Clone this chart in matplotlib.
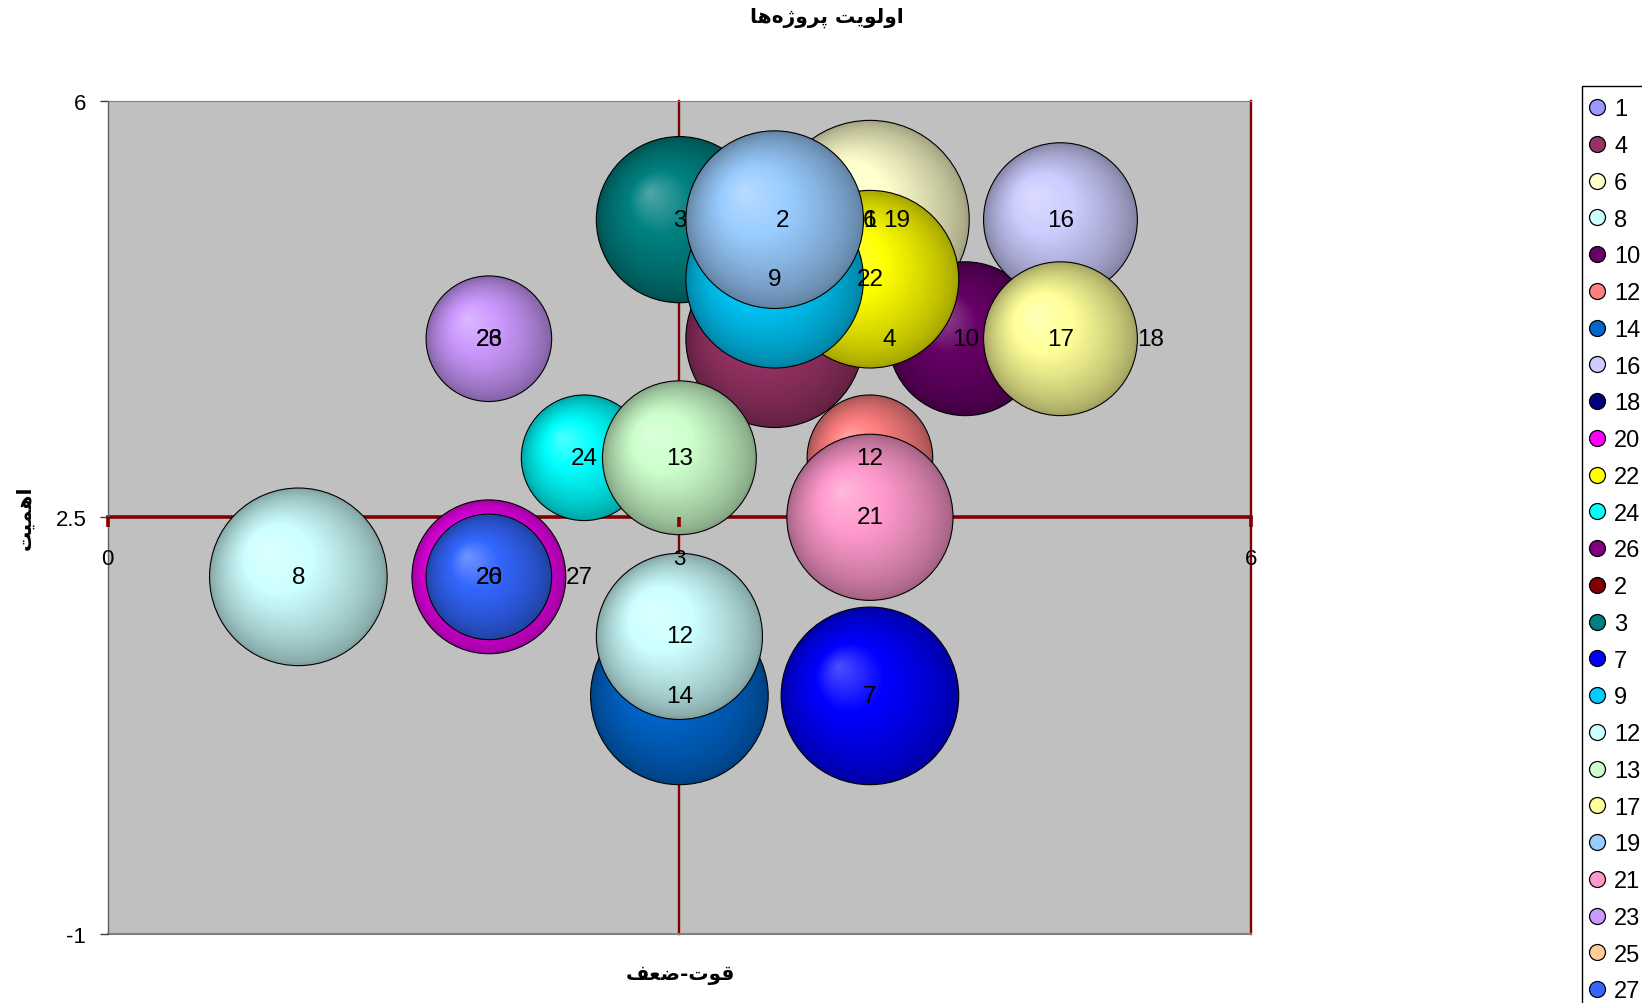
import numpy as np
import matplotlib
matplotlib.use("Agg")
import matplotlib.pyplot as plt
from matplotlib.colors import to_rgb
from matplotlib.lines import Line2D

# series in legend order (also the drawing order, later ones on top)
series = ["1", "4", "6", "8", "10", "12", "14", "16", "18", "20", "22", "24", "26",
          "2", "3", "7", "9", "12", "13", "17", "19", "21", "23", "25", "27"]
colors = ["#9999FF", "#993366", "#FFFFCC", "#CCFFFF", "#660066", "#FF8080", "#0066CC",
          "#CCCCFF", "#000080", "#FF00FF", "#FFFF00", "#00FFFF", "#800080", "#800000",
          "#008080", "#0000FF", "#00CCFF", "#CCFFFF", "#CCFFCC", "#FFFF99", "#99CCFF",
          "#FF99CC", "#CC99FF", "#FFCC99", "#3366FF"]
x_vals = [4, 3.5, 4, 1, 4.5, 4, 3, 5, 5, 2, 4, 2.5, 2,
          3.5, 3, 4, 3.5, 3, 3, 5, 3.5, 4, 2, 2, 2]
y_vals = [5, 4, 5, 2, 4, 3, 1, 5, 4, 2, 4.5, 3, 4,
          5, 5, 1, 4.5, 1.5, 3, 4, 5, 2.5, 4, 2, 2]
sizes = [9, 8, 10, 8, 6, 4, 8, 6, 4, 6, 8, 4, 3,
         0, 7, 8, 8, 7, 6, 6, 8, 7, 4, 3, 4]
# data labels as they appear on the chart
labels = ["1", "4", "6", "8", "10", "12", "14", "16", "18", "20", "22", "24", "26",
          "2", "3", "7", "9", "12", "13", "17", "19", "21", "23", "26", "27"]
label_side = ["c", "r", "c", "c", "c", "c", "c", "c", "r", "c", "c", "c", "c",
              "r", "c", "c", "c", "c", "c", "c", "r", "c", "c", "c", "r"]

title = "اولویت پروژه\u200cها"
x_title = "قوت-ضعف"
y_title = "اهمیت"

x_ticks = [0, 3, 6]
y_ticks = [-1, 2.5, 6]

# matplotlib does no arabic shaping, so pick the presentation forms by hand
FORMS = {
    "ا": ("\uFE8D", "\uFE8E", None, None),
    "و": ("\uFEED", "\uFEEE", None, None),
    "ر": ("\uFEAD", "\uFEAE", None, None),
    "ژ": ("\uFB8A", "\uFB8B", None, None),
    "ل": ("\uFEDD", "\uFEDE", "\uFEDF", "\uFEE0"),
    "ی": ("\uFBFC", "\uFBFD", "\uFBFE", "\uFBFF"),
    "ت": ("\uFE95", "\uFE96", "\uFE97", "\uFE98"),
    "پ": ("\uFB56", "\uFB57", "\uFB58", "\uFB59"),
    "ه": ("\uFEE9", "\uFEEA", "\uFEEB", "\uFEEC"),
    "ق": ("\uFED5", "\uFED6", "\uFED7", "\uFED8"),
    "ض": ("\uFEBD", "\uFEBE", "\uFEBF", "\uFEC0"),
    "ع": ("\uFEC9", "\uFECA", "\uFECB", "\uFECC"),
    "ف": ("\uFED1", "\uFED2", "\uFED3", "\uFED4"),
    "م": ("\uFEE1", "\uFEE2", "\uFEE3", "\uFEE4"),
}


def shape_rtl(s):
    out = []
    for i, ch in enumerate(s):
        if ch not in FORMS:
            if ch != "\u200c":
                out.append(ch)
            continue
        prev = s[i - 1] if i > 0 else ""
        nxt = s[i + 1] if i + 1 < len(s) else ""
        f = FORMS[ch]
        join_prev = prev in FORMS and FORMS[prev][2] is not None
        join_next = f[2] is not None and nxt in FORMS
        if join_prev and join_next:
            out.append(f[3])
        elif join_prev:
            out.append(f[1])
        elif join_next:
            out.append(f[2])
        else:
            out.append(f[0])
    return "".join(reversed(out))


def shade(base, t):
    dark = base * 0.64
    light = base + (1 - base) * 0.32
    cols = []
    for v in t:
        if v < 0.6:
            cols.append(dark + (base - dark) * (v / 0.6) ** 0.75)
        else:
            cols.append(base + (light - base) * ((v - 0.6) / 0.4))
    return np.clip(np.array(cols), 0, 1)


plt.rcParams["font.family"] = ["Liberation Sans", "DejaVu Sans"]

W, H = 1642, 1004
fig = plt.figure(figsize=(W / 100, H / 100), dpi=100)
ax = fig.add_axes([107.8 / W, 1 - 935 / H, (1251 - 107.8) / W, (935 - 101.6) / H])
ax.set_xlim(0, 6)
ax.set_ylim(-1, 6)
ax.set_facecolor("#C0C0C0")

# crossing axis at y = 2.5, gridlines at x = 3 and 6
ax.spines["bottom"].set_position(("data", 2.5))
ax.spines["bottom"].set_color("#800000")
ax.spines["bottom"].set_linewidth(2.6)
ax.spines["bottom"].set_zorder(1.6)
ax.spines["left"].set_color("#606060")
ax.spines["left"].set_linewidth(1.0)
ax.spines["top"].set_color("#808080")
ax.spines["right"].set_visible(False)
for xv in x_ticks[1:]:
    ax.axvline(xv, color="#800000", lw=1.7, zorder=1.5, clip_on=False)
ax.axhline(-1, color="#808080", lw=1.5, zorder=1.5, clip_on=False)

ax.set_xticks(x_ticks)
ax.set_xticklabels([str(v) for v in x_ticks])
ax.set_yticks(y_ticks)
ax.set_yticklabels([str(v) for v in y_ticks])
ax.tick_params(axis="x", direction="out", length=7, width=2.6, color="#800000",
               labelcolor="black", labelsize=16, pad=15)
ax.tick_params(axis="y", direction="out", length=5.5, width=1.0, color="#404040",
               labelsize=16, pad=10)
ax.xaxis.set_zorder(60)

fig.canvas.draw()
o = ax.transData.transform((0, 0))
ppx = ax.transData.transform((1, 0))[0] - o[0]
ppy = ax.transData.transform((0, 1))[1] - o[1]

px_per_size = 31.4  # radius in px of a size-1 bubble
steps = np.linspace(0, 1, 40, endpoint=False)
for i in range(len(series)):
    if sizes[i] <= 0:
        continue
    r = px_per_size * np.sqrt(sizes[i])
    cx = x_vals[i] - steps * 0.36 * r / ppx
    cy = y_vals[i] + steps * 0.33 * r / ppy
    rad_pt = r * (1 - steps) * 72 / fig.dpi
    cols = shade(np.array(to_rgb(colors[i])), steps)
    ec = ["black"] + ["none"] * (len(steps) - 1)
    lw = [0.8] + [0] * (len(steps) - 1)
    ax.scatter(cx, cy, s=(2 * rad_pt) ** 2, c=cols, edgecolors=ec, linewidths=lw,
               zorder=3 + i, clip_on=False)

for i in range(len(series)):
    r_pt = px_per_size * np.sqrt(sizes[i]) * 72 / fig.dpi
    if label_side[i] == "r":
        dx, ha = 1.2 * r_pt + 1.0, "left"
    else:
        dx, ha = 0, "center"
    ax.annotate(labels[i], (x_vals[i], y_vals[i]), xytext=(dx, 0),
                textcoords="offset points", ha=ha, va="center", fontsize=17.5,
                zorder=100)

fig.text(827 / W, 1 - 18 / H, shape_rtl(title), ha="center", va="center",
         fontsize=14.5, fontweight="bold", family="DejaVu Sans")
fig.text(680 / W, 1 - 976 / H, shape_rtl(x_title), ha="center", va="center",
         fontsize=14.5, fontweight="bold", family="DejaVu Sans")
fig.text(25 / W, 1 - 518 / H, shape_rtl(y_title), ha="center", va="center",
         rotation=90, fontsize=14.5, fontweight="bold", family="DejaVu Sans")

handles = [Line2D([], [], ls="", marker="o", ms=11.5, mfc=c, mec="black", mew=0.9)
           for c in colors]
leg = fig.legend(handles, series, loc="upper left",
                 bbox_to_anchor=(1581.7 / W, 1 - 87 / H), frameon=True, fancybox=False,
                 edgecolor="black", framealpha=1, fontsize=17, labelspacing=0.625,
                 handlelength=0.26, handletextpad=0.59, borderpad=0.52, borderaxespad=0)
leg.get_frame().set_linewidth(1.0)

fig.savefig("out.png", dpi=100)
